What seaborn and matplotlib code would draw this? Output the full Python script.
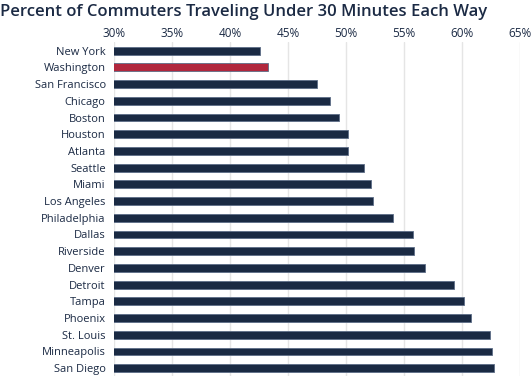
import matplotlib
matplotlib.use("Agg")
import matplotlib.pyplot as plt
import seaborn as sns
import pandas as pd
from matplotlib.ticker import FuncFormatter

cities = ["New York", "Washington", "San Francisco", "Chicago", "Boston", "Houston",
          "Atlanta", "Seattle", "Miami", "Los Angeles", "Philadelphia", "Dallas",
          "Riverside", "Denver", "Detroit", "Tampa", "Phoenix", "St. Louis",
          "Minneapolis", "San Diego"]
values = [42.6, 43.3, 47.5, 48.6, 49.4, 50.2, 50.2, 51.6, 52.2, 52.3, 54.1, 55.8,
          55.9, 56.8, 59.3, 60.2, 60.8, 62.4, 62.6, 62.8]
highlight = "Washington"
x_ticks = [30, 35, 40, 45, 50, 55, 60, 65]

navy = "#13284a"
red = "#c8102e"
text_col = "#1b2a44"

df = pd.DataFrame({"city": cities, "pct": values})
palette = {c: (red if c == highlight else navy) for c in cities}

sns.set_style("white")
plt.rcParams['font.family'] = ['Open Sans', 'DejaVu Sans']

fig = plt.figure(figsize=(5.31, 3.78), dpi=100)
ax = fig.add_axes([0.2147, 0.004, 0.979 - 0.2147, 0.884])

sns.barplot(data=df, y="city", x="pct", hue="city", palette=palette, legend=False,
            orient="h", width=0.47, ax=ax, edgecolor="#5d6d87", linewidth=0.6,
            zorder=3)

ax.set_xlim(30, 65)
ax.set_xticks(x_ticks)
ax.xaxis.set_major_formatter(FuncFormatter(lambda v, p: f"{int(v)}%"))
ax.xaxis.tick_top()
ax.tick_params(axis="x", length=0, pad=2, labelsize=8.5, labelcolor=text_col)
ax.tick_params(axis="y", length=0, pad=6, labelsize=8, labelcolor=text_col)
ax.set_xlabel("")
ax.set_ylabel("")
ax.grid(axis="x", color="#e5e5e5", linewidth=1, zorder=0)
ax.set_axisbelow(True)
for s in ax.spines.values():
    s.set_visible(False)

fig.text(0.0, 0.99, "Percent of Commuters Traveling Under 30 Minutes Each Way",
         ha="left", va="top", fontsize=12, fontweight="semibold", color=text_col)

fig.savefig("out.png", dpi=100)
